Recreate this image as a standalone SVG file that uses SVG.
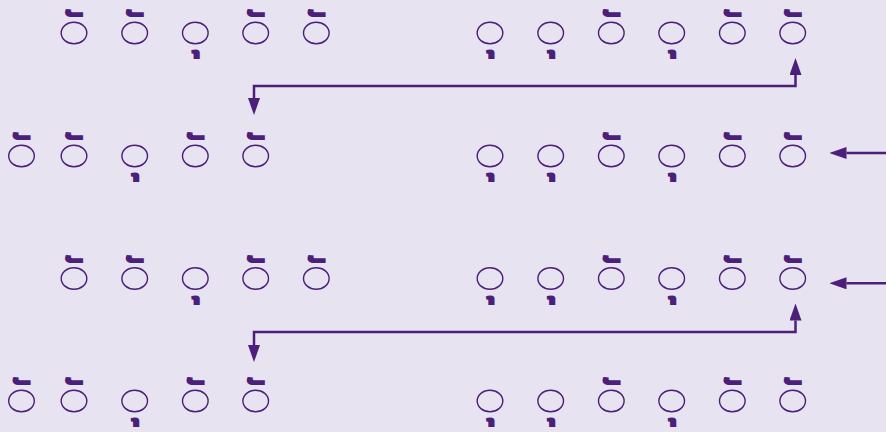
<svg xmlns="http://www.w3.org/2000/svg" width="886" height="432" viewBox="0 0 886 432">
<defs>
<style>
.bg{fill:#e7e3f1}
.syl{fill:none;stroke:#4b1f7a;stroke-width:1.4}
.mk{font-family:"Noto Sans Thai","Noto Sans","DejaVu Sans",sans-serif;font-size:48px;font-weight:bold;fill:#4b1f7a;text-anchor:middle}
.ln{fill:none;stroke:#4b1f7a;stroke-width:2.5}
</style>
<marker id="ah" viewBox="0 0 17 12" refX="0" refY="6" markerWidth="17" markerHeight="12" markerUnits="userSpaceOnUse" orient="auto-start-reverse">
<path d="M0,0 L17,6 L0,12 z" fill="#4b1f7a"/>
</marker>
</defs>
<rect class="bg" width="886" height="432"/>

<!-- Row 1 left: heavy heavy light heavy heavy -->
<g id="r1-l1"><ellipse class="syl" cx="74" cy="33" rx="12.8" ry="10.8"/><text class="mk" x="75.6" y="47">&#xA0;ั</text></g>
<g id="r1-l2"><ellipse class="syl" cx="134.7" cy="33" rx="12.8" ry="10.8"/><text class="mk" x="136.3" y="47">&#xA0;ั</text></g>
<g id="r1-l3"><ellipse class="syl" cx="195.3" cy="33" rx="12.8" ry="10.8"/><text class="mk" x="197.3" y="46">&#xA0;ุ</text></g>
<g id="r1-l4"><ellipse class="syl" cx="255.7" cy="33" rx="12.8" ry="10.8"/><text class="mk" x="257.3" y="47">&#xA0;ั</text></g>
<g id="r1-l5"><ellipse class="syl" cx="316.3" cy="33" rx="12.8" ry="10.8"/><text class="mk" x="317.9" y="47">&#xA0;ั</text></g>

<!-- Row 1 right: light light heavy light heavy heavy -->
<g id="r1-r1"><ellipse class="syl" cx="490" cy="33" rx="12.8" ry="10.8"/><text class="mk" x="492" y="46">&#xA0;ุ</text></g>
<g id="r1-r2"><ellipse class="syl" cx="550.7" cy="33" rx="12.8" ry="10.8"/><text class="mk" x="552.7" y="46">&#xA0;ุ</text></g>
<g id="r1-r3"><ellipse class="syl" cx="611.3" cy="33" rx="12.8" ry="10.8"/><text class="mk" x="612.9" y="47">&#xA0;ั</text></g>
<g id="r1-r4"><ellipse class="syl" cx="671.7" cy="33" rx="12.8" ry="10.8"/><text class="mk" x="673.7" y="46">&#xA0;ุ</text></g>
<g id="r1-r5"><ellipse class="syl" cx="732.3" cy="33" rx="12.8" ry="10.8"/><text class="mk" x="733.9" y="47">&#xA0;ั</text></g>
<g id="r1-r6"><ellipse class="syl" cx="792.7" cy="33" rx="12.8" ry="10.8"/><text class="mk" x="794.3" y="47">&#xA0;ั</text></g>

<!-- Row 2 left -->
<g id="r2-l1"><ellipse class="syl" cx="21.5" cy="156" rx="12.8" ry="10.8"/><text class="mk" x="23.1" y="170">&#xA0;ั</text></g>
<g id="r2-l2"><ellipse class="syl" cx="74" cy="156" rx="12.8" ry="10.8"/><text class="mk" x="75.6" y="170">&#xA0;ั</text></g>
<g id="r2-l3"><ellipse class="syl" cx="134.7" cy="156" rx="12.8" ry="10.8"/><text class="mk" x="136.7" y="169">&#xA0;ุ</text></g>
<g id="r2-l4"><ellipse class="syl" cx="195.3" cy="156" rx="12.8" ry="10.8"/><text class="mk" x="196.9" y="170">&#xA0;ั</text></g>
<g id="r2-l5"><ellipse class="syl" cx="255.7" cy="156" rx="12.8" ry="10.8"/><text class="mk" x="257.3" y="170">&#xA0;ั</text></g>

<!-- Row 2 right -->
<g id="r2-r1"><ellipse class="syl" cx="490" cy="156" rx="12.8" ry="10.8"/><text class="mk" x="492" y="169">&#xA0;ุ</text></g>
<g id="r2-r2"><ellipse class="syl" cx="550.7" cy="156" rx="12.8" ry="10.8"/><text class="mk" x="552.7" y="169">&#xA0;ุ</text></g>
<g id="r2-r3"><ellipse class="syl" cx="611.3" cy="156" rx="12.8" ry="10.8"/><text class="mk" x="612.9" y="170">&#xA0;ั</text></g>
<g id="r2-r4"><ellipse class="syl" cx="671.7" cy="156" rx="12.8" ry="10.8"/><text class="mk" x="673.7" y="169">&#xA0;ุ</text></g>
<g id="r2-r5"><ellipse class="syl" cx="732.3" cy="156" rx="12.8" ry="10.8"/><text class="mk" x="733.9" y="170">&#xA0;ั</text></g>
<g id="r2-r6"><ellipse class="syl" cx="792.7" cy="156" rx="12.8" ry="10.8"/><text class="mk" x="794.3" y="170">&#xA0;ั</text></g>

<!-- Row 3 left -->
<g id="r3-l1"><ellipse class="syl" cx="74" cy="278.5" rx="12.8" ry="10.8"/><text class="mk" x="75.6" y="292.5">&#xA0;ั</text></g>
<g id="r3-l2"><ellipse class="syl" cx="134.7" cy="278.5" rx="12.8" ry="10.8"/><text class="mk" x="136.3" y="292.5">&#xA0;ั</text></g>
<g id="r3-l3"><ellipse class="syl" cx="195.3" cy="278.5" rx="12.8" ry="10.8"/><text class="mk" x="197.3" y="291.5">&#xA0;ุ</text></g>
<g id="r3-l4"><ellipse class="syl" cx="255.7" cy="278.5" rx="12.8" ry="10.8"/><text class="mk" x="257.3" y="292.5">&#xA0;ั</text></g>
<g id="r3-l5"><ellipse class="syl" cx="316.3" cy="278.5" rx="12.8" ry="10.8"/><text class="mk" x="317.9" y="292.5">&#xA0;ั</text></g>

<!-- Row 3 right -->
<g id="r3-r1"><ellipse class="syl" cx="490" cy="278.5" rx="12.8" ry="10.8"/><text class="mk" x="492" y="291.5">&#xA0;ุ</text></g>
<g id="r3-r2"><ellipse class="syl" cx="550.7" cy="278.5" rx="12.8" ry="10.8"/><text class="mk" x="552.7" y="291.5">&#xA0;ุ</text></g>
<g id="r3-r3"><ellipse class="syl" cx="611.3" cy="278.5" rx="12.8" ry="10.8"/><text class="mk" x="612.9" y="292.5">&#xA0;ั</text></g>
<g id="r3-r4"><ellipse class="syl" cx="671.7" cy="278.5" rx="12.8" ry="10.8"/><text class="mk" x="673.7" y="291.5">&#xA0;ุ</text></g>
<g id="r3-r5"><ellipse class="syl" cx="732.3" cy="278.5" rx="12.8" ry="10.8"/><text class="mk" x="733.9" y="292.5">&#xA0;ั</text></g>
<g id="r3-r6"><ellipse class="syl" cx="792.7" cy="278.5" rx="12.8" ry="10.8"/><text class="mk" x="794.3" y="292.5">&#xA0;ั</text></g>

<!-- Row 4 left -->
<g id="r4-l1"><ellipse class="syl" cx="21.5" cy="401" rx="12.8" ry="10.8"/><text class="mk" x="23.1" y="415">&#xA0;ั</text></g>
<g id="r4-l2"><ellipse class="syl" cx="74" cy="401" rx="12.8" ry="10.8"/><text class="mk" x="75.6" y="415">&#xA0;ั</text></g>
<g id="r4-l3"><ellipse class="syl" cx="134.7" cy="401" rx="12.8" ry="10.8"/><text class="mk" x="136.7" y="414">&#xA0;ุ</text></g>
<g id="r4-l4"><ellipse class="syl" cx="195.3" cy="401" rx="12.8" ry="10.8"/><text class="mk" x="196.9" y="415">&#xA0;ั</text></g>
<g id="r4-l5"><ellipse class="syl" cx="255.7" cy="401" rx="12.8" ry="10.8"/><text class="mk" x="257.3" y="415">&#xA0;ั</text></g>

<!-- Row 4 right -->
<g id="r4-r1"><ellipse class="syl" cx="490" cy="401" rx="12.8" ry="10.8"/><text class="mk" x="492" y="414">&#xA0;ุ</text></g>
<g id="r4-r2"><ellipse class="syl" cx="550.7" cy="401" rx="12.8" ry="10.8"/><text class="mk" x="552.7" y="414">&#xA0;ุ</text></g>
<g id="r4-r3"><ellipse class="syl" cx="611.3" cy="401" rx="12.8" ry="10.8"/><text class="mk" x="612.9" y="415">&#xA0;ั</text></g>
<g id="r4-r4"><ellipse class="syl" cx="671.7" cy="401" rx="12.8" ry="10.8"/><text class="mk" x="673.7" y="414">&#xA0;ุ</text></g>
<g id="r4-r5"><ellipse class="syl" cx="732.3" cy="401" rx="12.8" ry="10.8"/><text class="mk" x="733.9" y="415">&#xA0;ั</text></g>
<g id="r4-r6"><ellipse class="syl" cx="792.7" cy="401" rx="12.8" ry="10.8"/><text class="mk" x="794.3" y="415">&#xA0;ั</text></g>

<g id="connectors">
<path class="ln" d="M254,98 V86 H795.5 V75" marker-start="url(#ah)" marker-end="url(#ah)"/>
<path class="ln" d="M254,345 V332 H795.5 V320.5" marker-start="url(#ah)" marker-end="url(#ah)"/>
<path class="ln" d="M886,153 H846.5" marker-end="url(#ah)"/>
<path class="ln" d="M886,283.3 H846.5" marker-end="url(#ah)"/>
</g>
</svg>
